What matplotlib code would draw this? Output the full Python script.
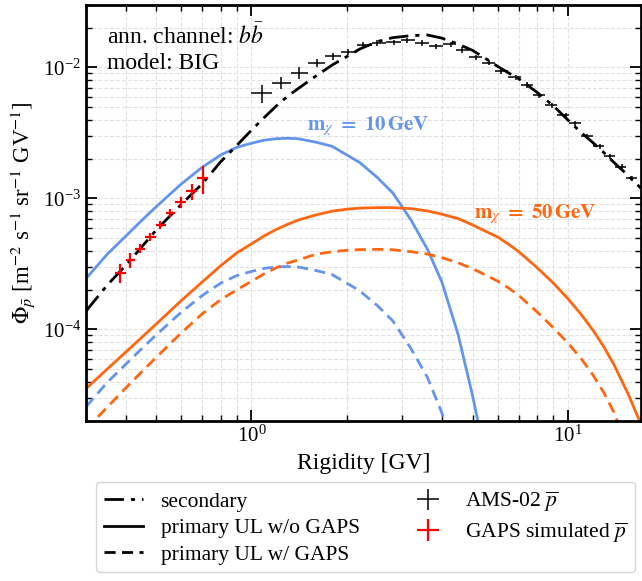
import numpy as np
import matplotlib
matplotlib.use("Agg")
import matplotlib.pyplot as plt
from matplotlib.ticker import LogLocator, NullFormatter

plt.rcParams['font.family'] = 'serif'
plt.rcParams['font.serif'] = ['Liberation Serif', 'DejaVu Serif']
plt.rcParams['mathtext.fontset'] = 'stix'

# rigidity grid of the model curves [GV]
R_th = [0.30, 0.35, 0.40, 0.45, 0.5, 0.6, 0.7, 0.8, 0.9, 1.0, 1.1, 1.2, 1.3, 1.4,
        1.6, 1.8, 2.0, 2.2, 2.5, 2.8, 3.2, 3.6, 4.0, 4.5, 5.0, 5.5, 6.0, 6.5, 7.0,
        8.0, 9.0, 10.0, 11.0, 12.0, 13.0, 14.0, 15.5, 17.0]

# secondary antiproton flux
secondary = [1.38e-4, 2.18e-4, 3.07e-4, 4.27e-4, 5.74e-4, 9.0e-4, 1.30e-3, 1.91e-3,
             2.55e-3, 3.32e-3, 4.17e-3, 5.1e-3, 6.02e-3, 6.86e-3, 8.62e-3, 1.045e-2,
             1.21e-2, 1.384e-2, 1.577e-2, 1.69e-2, 1.75e-2, 1.77e-2, 1.675e-2, 1.51e-2,
             1.35e-2, 1.17e-2, 1.02e-2, 9.08e-3, 8.2e-3, 6.45e-3, 5.1e-3, 3.98e-3,
             3.2e-3, 2.67e-3, 2.24e-3, 1.88e-3, 1.50e-3, 1.2e-3]

# m_chi = 50 GeV, upper limits without / with GAPS
ul50_noGAPS = [3.53e-5, 4.98e-5, 6.69e-5, 8.69e-5, 1.10e-4, 1.66e-4, 2.31e-4, 3.07e-4,
               3.85e-4, 4.5e-4, 5.2e-4, 5.81e-4, 6.34e-4, 6.82e-4, 7.49e-4, 8.0e-4,
               8.28e-4, 8.44e-4, 8.51e-4, 8.51e-4, 8.36e-4, 8.03e-4, 7.58e-4, 7.02e-4,
               6.28e-4, 5.61e-4, 5.08e-4, 4.47e-4, 3.92e-4, 2.96e-4, 2.26e-4, 1.72e-4,
               1.31e-4, 9.9e-5, 7.36e-5, 5.37e-5, 3.23e-5, 1.91e-5]
ul50_GAPS = [1.72e-5, 2.55e-5, 3.56e-5, 4.75e-5, 6.12e-5, 9.4e-5, 1.32e-4, 1.69e-4,
             2.01e-4, 2.33e-4, 2.67e-4, 2.96e-4, 3.21e-4, 3.38e-4, 3.75e-4, 3.92e-4,
             4.02e-4, 4.07e-4, 4.09e-4, 4.06e-4, 3.92e-4, 3.76e-4, 3.53e-4, 3.23e-4,
             2.91e-4, 2.60e-4, 2.34e-4, 2.07e-4, 1.815e-4, 1.36e-4, 1.03e-4, 7.89e-5,
             6.02e-5, 4.51e-5, 3.29e-5, 2.32e-5, 1.23e-5, 6e-6]

# m_chi = 10 GeV (drops out of the frame near 5 GV)
R_10 = [0.30, 0.35, 0.40, 0.45, 0.5, 0.6, 0.7, 0.8, 0.9, 1.0, 1.1, 1.2, 1.3, 1.4,
        1.6, 1.8, 2.0, 2.2, 2.5, 2.8, 3.2, 3.6, 4.0, 4.5, 5.0, 5.5]
ul10_noGAPS = [2.45e-4, 3.75e-4, 5.14e-4, 6.8e-4, 8.65e-4, 1.29e-3, 1.735e-3, 2.15e-3,
               2.46e-3, 2.64e-3, 2.79e-3, 2.86e-3, 2.88e-3, 2.86e-3, 2.69e-3, 2.50e-3,
               2.15e-3, 1.88e-3, 1.445e-3, 1.10e-3, 6.8e-4, 4.09e-4, 2.30e-4, 9.16e-5,
               3.12e-5, 1.03e-5]
ul10_GAPS = [2.57e-5, 3.94e-5, 5.4e-5, 7.14e-5, 9.08e-5, 1.355e-4, 1.82e-4, 2.26e-4,
             2.58e-4, 2.77e-4, 2.93e-4, 3.0e-4, 3.02e-4, 3.0e-4, 2.82e-4, 2.62e-4,
             2.26e-4, 1.97e-4, 1.52e-4, 1.16e-4, 7.1e-5, 4.3e-5, 2.3e-5, 9.6e-6,
             3.3e-6, 1.1e-6]

# AMS-02 antiproton data
ams_edges = [1.00, 1.16, 1.33, 1.51, 1.71, 1.92, 2.15, 2.40, 2.67, 2.97, 3.29, 3.64,
             4.02, 4.43, 4.88, 5.37, 5.90, 6.47, 7.09, 7.76, 8.48, 9.26, 10.1, 11.0,
             12.0, 13.0, 14.1, 15.3, 16.6]
ams_R = [1.078, 1.243, 1.417, 1.607, 1.814, 2.023, 2.256, 2.497, 2.83, 3.112, 3.469,
         3.826, 4.266, 4.64, 5.117, 5.63, 6.17, 6.84, 7.44, 8.10, 8.92, 9.84, 10.57,
         11.5, 12.68, 13.64, 14.84, 15.95]
ams_flux = [6.38e-3, 7.65e-3, 9.12e-3, 1.086e-2, 1.22e-2, 1.32e-2, 1.49e-2, 1.54e-2,
            1.56e-2, 1.62e-2, 1.54e-2, 1.45e-2, 1.51e-2, 1.36e-2, 1.198e-2, 1.09e-2,
            9.37e-3, 8.43e-3, 7.35e-3, 6.12e-3, 5.14e-3, 4.33e-3, 3.74e-3, 2.99e-3,
            2.51e-3, 2.10e-3, 1.745e-3, 1.425e-3]
ams_relerr = [0.16, 0.11, 0.10, 0.07, 0.06, 0.05, 0.045, 0.045, 0.045, 0.045, 0.045,
              0.045, 0.045, 0.045, 0.045, 0.045, 0.045, 0.045, 0.045, 0.045, 0.045,
              0.045, 0.045, 0.045, 0.045, 0.045, 0.045, 0.045]

# GAPS simulated antiproton data
gaps_edges = [0.37, 0.40, 0.43, 0.46, 0.50, 0.535, 0.575, 0.62, 0.675, 0.73]
gaps_R = [0.3834, 0.4143, 0.4455, 0.479, 0.515, 0.554, 0.597, 0.650, 0.702]
gaps_flux = [2.69e-4, 3.40e-4, 4.14e-4, 5.12e-4, 6.31e-4, 7.78e-4, 9.37e-4, 1.136e-3, 1.435e-3]
gaps_relerr = [0.165, 0.13, 0.08, 0.07, 0.07, 0.07, 0.10, 0.14, 0.24]

blue = '#6495ed'
orange = '#ff6611'
dashed = (0, (4, 2.3))

fig = plt.figure(figsize=(6.42, 5.81), dpi=100)
ax = fig.add_axes([0.134, 0.2754, 0.864, 0.716])

ams_R = np.array(ams_R)
ams_edges = np.array(ams_edges)
ams_flux = np.array(ams_flux)
gaps_R = np.array(gaps_R)
gaps_edges = np.array(gaps_edges)
gaps_flux = np.array(gaps_flux)

h_sec, = ax.plot(R_th, secondary, color='k', lw=2, ls=(0, (7, 2.5, 1.5, 2.5)), zorder=4)
ax.plot(R_10, ul10_noGAPS, color=blue, lw=2)
ax.plot(R_10, ul10_GAPS, color=blue, lw=2, ls=dashed)
ax.plot(R_th, ul50_noGAPS, color=orange, lw=2)
ax.plot(R_th, ul50_GAPS, color=orange, lw=2, ls=dashed)

h_ams = ax.errorbar(ams_R, ams_flux,
                    xerr=[ams_R - ams_edges[:-1], ams_edges[1:] - ams_R],
                    yerr=ams_flux * np.array(ams_relerr),
                    fmt='none', ecolor='k', elinewidth=1.1, capsize=0, zorder=5)
h_gaps = ax.errorbar(gaps_R, gaps_flux,
                     xerr=[gaps_R - gaps_edges[:-1], gaps_edges[1:] - gaps_R],
                     yerr=gaps_flux * np.array(gaps_relerr),
                     fmt='none', ecolor='red', elinewidth=1.6, capsize=0, zorder=6)

ax.set_xscale('log')
ax.set_yscale('log')
ax.set_xlim(0.3, 17)
ax.set_ylim(2e-5, 3e-2)

ax.yaxis.set_major_locator(LogLocator(base=10, numticks=10))
ax.yaxis.set_minor_locator(LogLocator(base=10, subs=np.arange(2, 10), numticks=20))
ax.yaxis.set_minor_formatter(NullFormatter())
ax.xaxis.set_minor_formatter(NullFormatter())
ax.tick_params(which='both', direction='in', top=True, right=True, labelsize=15)
ax.tick_params(which='major', length=8, width=1.3)
ax.tick_params(which='minor', length=4, width=1.0)
for s in ax.spines.values():
    s.set_linewidth(2)
ax.grid(True, which='both', ls='--', color='#e2e2e2', lw=0.8)
ax.set_axisbelow(True)

ax.set_xlabel('Rigidity [GV]', fontsize=17)
ax.set_ylabel(r'$\Phi_{\bar{p}}$ [m$^{-2}$ s$^{-1}$ sr$^{-1}$ GV$^{-1}$]', fontsize=16.5)

ax.text(0.038, 0.955, 'ann. channel: $b\\bar{b}$\nmodel: BIG', transform=ax.transAxes,
        fontsize=17, va='top', ha='left', linespacing=1.2)
ax.text(1.50, 3.6e-3, r'$\mathbf{m}_{\chi}\ \mathbf{=\ 10\,GeV}$', color=blue,
        fontsize=15, va='center', ha='left')
ax.text(5.05, 7.6e-4, r'$\mathbf{m}_{\chi}\ \mathbf{=\ 50\,GeV}$', color=orange,
        fontsize=15, va='center', ha='left')

h_solid, = ax.plot([], [], color='k', lw=2)
h_dash, = ax.plot([], [], color='k', lw=2, ls=dashed)
leg = fig.legend([h_sec, h_solid, h_dash, h_ams, h_gaps],
                 ['secondary', 'primary UL w/o GAPS', 'primary UL w/ GAPS',
                  r'AMS-02 $\overline{p}$', r'GAPS simulated $\overline{p}$'],
                 loc='upper left', bbox_to_anchor=(0.1495, 0.1704), borderaxespad=0,
                 ncol=2, fontsize=15.5, frameon=True, fancybox=True, edgecolor='#cccccc',
                 handlelength=1.85, columnspacing=2.25, labelspacing=0.3, borderpad=0.35)

fig.savefig('out.png', dpi=100)
